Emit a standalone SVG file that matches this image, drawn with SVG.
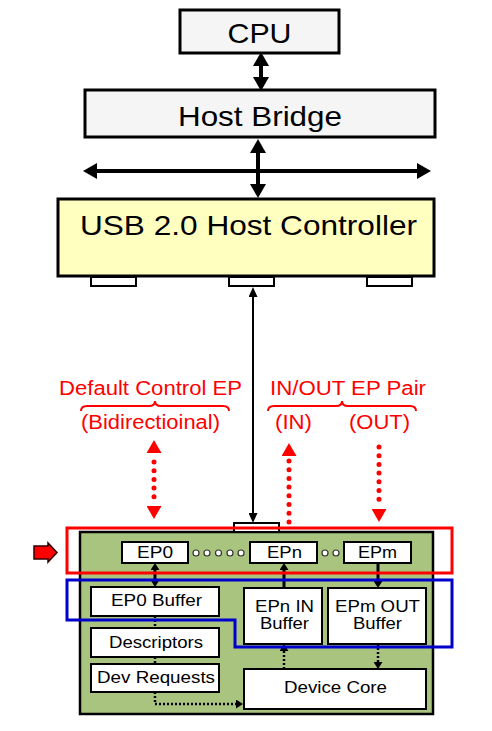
<svg xmlns="http://www.w3.org/2000/svg" width="492" height="731" viewBox="0 0 492 731">
<style>
text{font-family:"Liberation Sans",Arial,sans-serif;fill:#000}
.big{font-size:28px}
.sm{font-size:16px}
.red{fill:#ff0000;font-size:20px}
.gray{fill:#f5f5f5;stroke:#000;stroke-width:3}
.wb{fill:#fff;stroke:#000;stroke-width:2}
.thick{stroke:#000;stroke-width:4;fill:none}
.thin{stroke:#000;stroke-width:2;fill:none}
.in3{stroke:#000;stroke-width:3;fill:none}
.dot{stroke:#000;stroke-width:2.5;stroke-dasharray:2 2;fill:none}
.rdot{stroke:#ff0000;stroke-width:5;stroke-linecap:round;stroke-dasharray:0 8.7;fill:none}
.circ{fill:#fff;stroke:#333;stroke-width:1.2}
</style>
<defs>
<marker id="hb" markerUnits="userSpaceOnUse" markerWidth="14" markerHeight="16" viewBox="0 0 14 16" refX="0" refY="8" orient="auto-start-reverse"><path d="M0,0 L14,8 L0,16 z" fill="#000"/></marker>
<marker id="ht" markerUnits="userSpaceOnUse" markerWidth="10" markerHeight="9" viewBox="0 0 10 9" refX="0" refY="4.5" orient="auto-start-reverse"><path d="M0,0 L10,4.5 L0,9 z" fill="#000"/></marker>
<marker id="hs" markerUnits="userSpaceOnUse" markerWidth="7" markerHeight="9" viewBox="0 0 7 9" refX="0" refY="4.5" orient="auto-start-reverse"><path d="M0,0 L7,4.5 L0,9 z" fill="#000"/></marker>
<marker id="hr" markerUnits="userSpaceOnUse" markerWidth="13" markerHeight="15" viewBox="0 0 13 15" refX="0" refY="7.5" orient="auto-start-reverse"><path d="M0,0 L13,7.5 L0,15 z" fill="#ff0000"/></marker>
</defs>

<g id="cpu">
<rect class="gray" x="180" y="10" width="159" height="43"/>
<text class="big" x="259.5" y="43" text-anchor="middle" textLength="64" lengthAdjust="spacingAndGlyphs">CPU</text>
</g>
<g id="host-bridge">
<rect class="gray" x="85" y="90" width="350" height="47"/>
<text class="big" x="260" y="126" text-anchor="middle" textLength="164" lengthAdjust="spacingAndGlyphs">Host Bridge</text>
</g>
<g id="usb-host-controller">
<rect x="58" y="199" width="376" height="77" fill="#ffffc0" stroke="#000" stroke-width="3"/>
<text class="big" x="80" y="235" textLength="337" lengthAdjust="spacingAndGlyphs">USB 2.0 Host Controller</text>
<rect class="wb" x="91" y="277" width="45" height="9"/>
<rect class="wb" x="229" y="277" width="45" height="9"/>
<rect class="wb" x="367" y="277" width="45" height="9"/>
</g>

<g id="labels">
<text class="red" x="59" y="395" textLength="183" lengthAdjust="spacingAndGlyphs">Default Control EP</text>
<path d="M81,411 Q81,406 87,406 L149,406 Q155,406 155,401 Q155,406 161,406 L223,406 Q229,406 229,411" fill="none" stroke="#ff0000" stroke-width="2"/>
<text class="red" x="81" y="429" textLength="139" lengthAdjust="spacingAndGlyphs">(Bidirectioinal)</text>
<text class="red" x="270" y="395" textLength="156" lengthAdjust="spacingAndGlyphs">IN/OUT EP Pair</text>
<path d="M268,411 Q268,406 274,406 L336,406 Q342,406 342,401 Q342,406 348,406 L410,406 Q416,406 416,411" fill="none" stroke="#ff0000" stroke-width="2"/>
<text class="red" x="275" y="429" textLength="37" lengthAdjust="spacingAndGlyphs">(IN)</text>
<text class="red" x="349" y="429" textLength="61" lengthAdjust="spacingAndGlyphs">(OUT)</text>
</g>

<g id="device">
<rect x="80" y="532" width="353" height="182" fill="#a9c47f" stroke="#000" stroke-width="2.5"/>
<rect class="wb" x="234" y="523" width="45" height="9"/>
</g>
<g id="ep0"><rect class="wb" x="122" y="542" width="66" height="21"/><text class="sm" x="155" y="558" text-anchor="middle" textLength="36" lengthAdjust="spacingAndGlyphs">EP0</text></g>
<g id="epn"><rect class="wb" x="250" y="542" width="67" height="21"/><text class="sm" x="284.5" y="558" text-anchor="middle" textLength="35" lengthAdjust="spacingAndGlyphs">EPn</text></g>
<g id="epm"><rect class="wb" x="344" y="542" width="67" height="21"/><text class="sm" x="377.5" y="558" text-anchor="middle" textLength="39" lengthAdjust="spacingAndGlyphs">EPm</text></g>
<g id="dots">
<circle class="circ" cx="196" cy="553" r="3"/><circle class="circ" cx="207" cy="553" r="3"/><circle class="circ" cx="218.5" cy="553" r="3"/><circle class="circ" cx="230" cy="553" r="3"/><circle class="circ" cx="241" cy="553" r="3"/>
<circle class="circ" cx="325" cy="553" r="3"/><circle class="circ" cx="336" cy="553" r="3"/>
</g>
<g id="ep0-buffer"><rect class="wb" x="91" y="587" width="128" height="29"/><text class="sm" x="156.5" y="606" text-anchor="middle" textLength="91" lengthAdjust="spacingAndGlyphs">EP0 Buffer</text></g>
<g id="descriptors"><rect class="wb" x="91" y="628" width="128" height="29"/><text class="sm" x="156" y="648" text-anchor="middle" textLength="94" lengthAdjust="spacingAndGlyphs">Descriptors</text></g>
<g id="dev-requests"><rect class="wb" x="91" y="664" width="128" height="28"/><text class="sm" x="156" y="683" text-anchor="middle" textLength="118" lengthAdjust="spacingAndGlyphs">Dev Requests</text></g>
<g id="epn-in-buffer"><rect class="wb" x="244" y="588" width="78" height="56"/><text class="sm" x="284.5" y="612" text-anchor="middle" textLength="59" lengthAdjust="spacingAndGlyphs">EPn IN</text><text class="sm" x="284.5" y="629" text-anchor="middle" textLength="49" lengthAdjust="spacingAndGlyphs">Buffer</text></g>
<g id="epm-out-buffer"><rect class="wb" x="328" y="588" width="98" height="56"/><text class="sm" x="377.5" y="612" text-anchor="middle" textLength="85" lengthAdjust="spacingAndGlyphs">EPm OUT</text><text class="sm" x="377.5" y="629" text-anchor="middle" textLength="49" lengthAdjust="spacingAndGlyphs">Buffer</text></g>
<g id="device-core"><rect class="wb" x="244" y="669" width="182" height="40"/><text class="sm" x="335.5" y="693" text-anchor="middle" textLength="103" lengthAdjust="spacingAndGlyphs">Device Core</text></g>

<g id="connectors">
<line class="thick" x1="261" y1="66" x2="261" y2="77" marker-start="url(#hb)" marker-end="url(#hb)"/>
<line class="thick" x1="97" y1="171" x2="417" y2="171" marker-start="url(#hb)" marker-end="url(#hb)"/>
<line class="thick" x1="258" y1="153" x2="258" y2="184" marker-start="url(#hb)" marker-end="url(#hb)"/>
<line class="thin" x1="253" y1="297" x2="253" y2="513" marker-start="url(#ht)" marker-end="url(#ht)"/>
<line class="rdot" x1="154" y1="462" x2="154" y2="498"/>
<line x1="154" y1="453" x2="154" y2="506" stroke="none" marker-start="url(#hr)" marker-end="url(#hr)"/>
<line class="rdot" x1="289" y1="461" x2="289" y2="522"/>
<line x1="289" y1="456" x2="289" y2="470" stroke="none" marker-start="url(#hr)"/>
<line class="rdot" x1="379" y1="447" x2="379" y2="503"/>
<line x1="379" y1="495" x2="379" y2="509" stroke="none" marker-end="url(#hr)"/>
<line class="in3" x1="155" y1="570" x2="155" y2="580" marker-start="url(#hs)" marker-end="url(#hs)"/>
<line class="in3" x1="284" y1="588" x2="284" y2="570" marker-end="url(#hs)"/>
<line class="in3" x1="378" y1="563" x2="378" y2="581" marker-end="url(#hs)"/>
<line class="dot" x1="155" y1="616" x2="155" y2="628"/>
<line class="dot" x1="155" y1="657" x2="155" y2="664"/>
<path class="dot" d="M155,692 L155,704 L236,704" marker-end="url(#hs)"/>
<line class="dot" x1="284" y1="669" x2="284" y2="651" marker-end="url(#hs)"/>
<line class="dot" x1="378" y1="644" x2="378" y2="662" marker-end="url(#hs)"/>
</g>

<g id="highlights">
<rect x="67" y="528" width="385" height="45" fill="none" stroke="#ff0000" stroke-width="3"/>
<path d="M67,580 L452,580 L452,647 L235,647 L235,620 L67,620 z" fill="none" stroke="#0000cc" stroke-width="3"/>
<path d="M34,546 L48,546 L48,543 L57,552.5 L48,562 L48,559 L34,559 z" fill="#ff0000" stroke="#300" stroke-width="1.5"/>
</g>
</svg>
